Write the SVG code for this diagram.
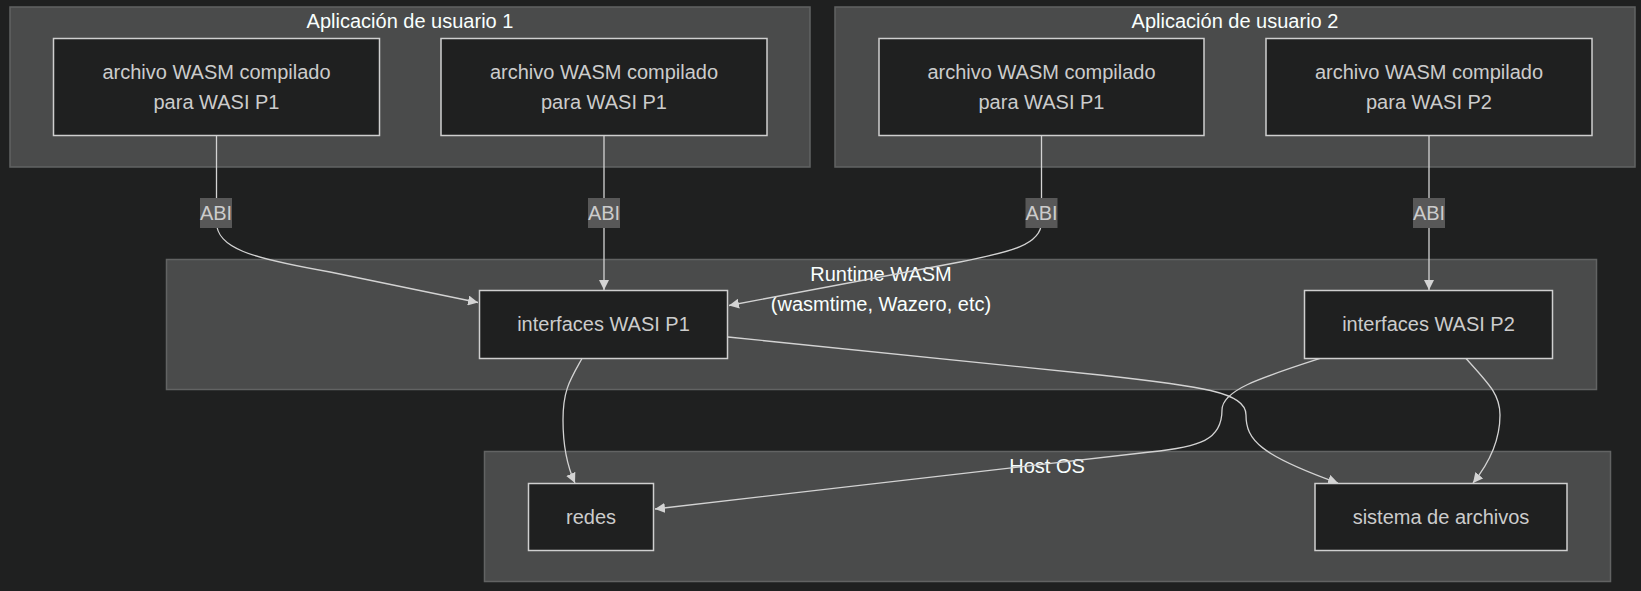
<svg xmlns="http://www.w3.org/2000/svg" width="1641" height="591" viewBox="0 0 1641 591">
<defs>
<style>
.bg{fill:#1f2020}
.cluster rect{fill:#4a4b4b;stroke:#626363;stroke-width:1.5}
.cluster text{fill:#f9fffe;font-family:"Liberation Sans",Arial,sans-serif;font-size:20px;text-anchor:middle}
.node rect{fill:#1f2020;stroke:#cfcfcf;stroke-width:1.5}
.node text{fill:#cccccc;font-family:"Liberation Sans",Arial,sans-serif;font-size:20px;text-anchor:middle}
.edge{fill:none;stroke:#d3d3d3;stroke-width:1.3;marker-end:url(#arrow)}
.elabel rect{fill:#585858}
.elabel text{fill:#cccccc;font-family:"Liberation Sans",Arial,sans-serif;font-size:20px;text-anchor:middle}
</style>
<marker id="arrow" viewBox="0 0 10 10" refX="10" refY="5" markerWidth="10" markerHeight="10" markerUnits="userSpaceOnUse" orient="auto">
<path d="M0,0 L10,5 L0,10 z" fill="#d3d3d3"/>
</marker>
</defs>
<rect class="bg" x="0" y="0" width="1641" height="591"/>

<g id="cluster-app1" class="cluster">
<rect x="10" y="7" width="800" height="160"/>
<text x="410" y="27.5">Aplicación de usuario 1</text>
</g>
<g id="cluster-app2" class="cluster">
<rect x="835" y="7" width="800" height="160"/>
<text x="1235" y="27.5">Aplicación de usuario 2</text>
</g>
<g id="cluster-runtime" class="cluster">
<rect x="166.5" y="259.5" width="1430" height="130"/>
<text x="881" y="281">Runtime WASM</text>
<text x="881" y="311">(wasmtime, Wazero, etc)</text>
</g>
<g id="cluster-host" class="cluster">
<rect x="484.5" y="451.5" width="1126" height="130"/>
<text x="1047" y="473">Host OS</text>
</g>

<g id="connectors">
<path class="edge" d="M216.5,136 V222 C216.5,248 250,258 330,272 L478,302.5"/>
<path class="edge" d="M604,136 V290"/>
<path class="edge" d="M1041.5,136 V222 C1041.5,245 1010,252 960,262 L729,305.5"/>
<path class="edge" d="M1429,136 V290"/>
<path class="edge" d="M582,358.5 C570,380 563,390 563,420 C563,450 568,468 575,483"/>
<path class="edge" d="M728,337 L1100,375 C1200,386 1246,392 1246,415 C1246,440 1260,455 1338,483"/>
<path class="edge" d="M1320,358.5 C1260,378 1222,390 1222,410 C1222,440 1200,447 1150,452 L655,509"/>
<path class="edge" d="M1466,358.5 C1490,385 1500,395 1500,415 C1500,440 1490,462 1473,483"/>
</g>

<g id="edge-labels">
<g class="elabel"><rect x="200" y="198" width="32" height="30"/><text x="216" y="220">ABI</text></g>
<g class="elabel"><rect x="588" y="198" width="32" height="30"/><text x="604" y="220">ABI</text></g>
<g class="elabel"><rect x="1025.5" y="198" width="32" height="30"/><text x="1041.5" y="220">ABI</text></g>
<g class="elabel"><rect x="1413" y="198" width="32" height="30"/><text x="1429" y="220">ABI</text></g>
</g>

<g id="node-wasm1" class="node">
<rect x="53.5" y="38.5" width="326" height="97"/>
<text x="216.5" y="79">archivo WASM compilado</text>
<text x="216.5" y="109">para WASI P1</text>
</g>
<g id="node-wasm2" class="node">
<rect x="441" y="38.5" width="326" height="97"/>
<text x="604" y="79">archivo WASM compilado</text>
<text x="604" y="109">para WASI P1</text>
</g>
<g id="node-wasm3" class="node">
<rect x="879" y="38.5" width="325" height="97"/>
<text x="1041.5" y="79">archivo WASM compilado</text>
<text x="1041.5" y="109">para WASI P1</text>
</g>
<g id="node-wasm4" class="node">
<rect x="1266" y="38.5" width="326" height="97"/>
<text x="1429" y="79">archivo WASM compilado</text>
<text x="1429" y="109">para WASI P2</text>
</g>
<g id="node-p1" class="node">
<rect x="479.5" y="290.5" width="248" height="68"/>
<text x="603.5" y="331">interfaces WASI P1</text>
</g>
<g id="node-p2" class="node">
<rect x="1304.5" y="290.5" width="248" height="68"/>
<text x="1428.5" y="331">interfaces WASI P2</text>
</g>
<g id="node-redes" class="node">
<rect x="528.5" y="483.5" width="125" height="67"/>
<text x="591" y="524">redes</text>
</g>
<g id="node-fs" class="node">
<rect x="1315" y="483.5" width="252" height="67"/>
<text x="1441" y="524">sistema de archivos</text>
</g>
</svg>
